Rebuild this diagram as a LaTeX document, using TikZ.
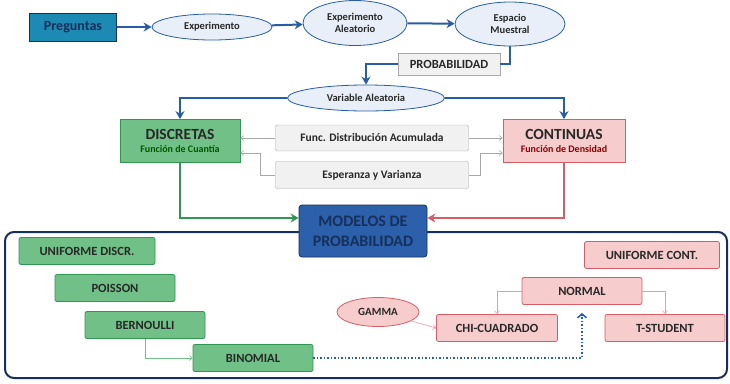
\documentclass[tikz,border=0pt]{standalone}
\usepackage{fontspec}
\setmainfont{Carlito}
\usepackage{tikz}
\usetikzlibrary{arrows.meta, positioning, shapes.geometric, calc}
\usepackage{xcolor}
\definecolor{flowblue}{RGB}{40,92,165}
\definecolor{ellfill}{RGB}{232,239,248}
\definecolor{tealfill}{RGB}{28,138,178}
\definecolor{navy}{RGB}{22,48,92}
\definecolor{greenfill}{RGB}{112,192,135}
\definecolor{greendraw}{RGB}{48,150,82}
\definecolor{pinkfill}{RGB}{246,204,205}
\definecolor{reddraw}{RGB}{214,92,102}
\definecolor{greyfill}{RGB}{241,241,241}
\definecolor{greydraw}{RGB}{168,168,168}
\definecolor{modfill}{RGB}{45,96,170}
\definecolor{txt}{RGB}{40,40,40}

\begin{document}
\begin{tikzpicture}[
    x=1pt, y=-1pt,
    every node/.style={inner sep=0pt, align=center, text=txt, font=\bfseries},
    ell/.style={ellipse, draw=flowblue, thick, fill=ellfill, font=\bfseries\fontsize{10.5}{12}\selectfont},
    grey/.style={rectangle, rounded corners=2pt, draw=greydraw, fill=greyfill,
                 minimum width=193pt, font=\bfseries\fontsize{11.5}{13}\selectfont},
    disc/.style={rectangle, rounded corners=2pt, draw=greendraw, thick, fill=greenfill,
                 minimum width=120pt, minimum height=27pt, font=\bfseries\fontsize{12.5}{14}\selectfont},
    cont/.style={rectangle, rounded corners=2pt, draw=reddraw, thick, fill=pinkfill,
                 minimum width=120pt, minimum height=27pt, font=\bfseries\fontsize{12.5}{14}\selectfont},
    arr/.style={-{Stealth[length=8pt, width=9pt]}, line width=2pt, draw=flowblue},
    thin arr/.style={-{Straight Barb[length=3pt, width=5pt]}, semithick},
]
    \useasboundingbox (0,0) rectangle (730,383);

    % frame of the models
    \draw[navy, line width=2pt, rounded corners=9pt] (5,232) rectangle (727,378);

    % upper part
    \node[rectangle, draw=navy, thick, fill=tealfill, minimum width=87pt, minimum height=28pt,
          text=navy, font=\bfseries\fontsize{14}{16}\selectfont] (preg) at (73,27) {Preguntas};
    \node[ell, minimum width=120pt, minimum height=26pt] (exp) at (212,27) {Experimento};
    \node[ell, minimum width=104pt, minimum height=45pt] (expal) at (355,23) {Experimento\\Aleatorio};
    \node[ell, minimum width=110pt, minimum height=44pt] (esp) at (510,24) {Espacio\\Muestral};
    \node[rectangle, draw=greydraw, thick, fill=greyfill, minimum width=102pt, minimum height=22pt,
          font=\bfseries\fontsize{12.5}{14}\selectfont] (prob) at (449,64) {PROBABILIDAD};
    \node[ell, minimum width=157pt, minimum height=26pt] (va) at (366,98) {Variable Aleatoria};

    \node[rectangle, draw=greendraw, thick, fill=greenfill, minimum width=120pt, minimum height=43pt]
        (dis) at (180,141) {\fontsize{15.5}{17}\selectfont DISCRETAS\\[1pt]
        {\fontsize{10}{11}\selectfont\color{green!35!black}Función de Cuantía}};
    \node[rectangle, draw=reddraw, thick, fill=pinkfill, minimum width=122pt, minimum height=43pt]
        (con) at (564,141) {\fontsize{15.5}{17}\selectfont CONTINUAS\\[1pt]
        {\fontsize{10}{11}\selectfont\color{red!55!black}Función de Densidad}};
    \node[grey, minimum height=26pt] (fda) at (372,138) {Func. Distribución Acumulada};
    \node[grey, minimum height=27pt] (esv) at (372,175) {Esperanza y Varianza};

    \node[rectangle, rounded corners=3pt, draw=navy, thick, fill=modfill, minimum width=128pt,
          minimum height=52pt, text=navy, font=\bfseries\fontsize{16}{20}\selectfont]
        (mod) at (363,231) {MODELOS DE\\PROBABILIDAD};

    \draw[arr] (preg) -- (exp);
    \draw[arr] (exp) -- (expal);
    \draw[arr] (expal) -- (esp);
    \draw[line width=2pt, flowblue] (esp.south) |- (prob.east);
    \draw[arr] (prob.west) -| (va.north);
    \draw[arr] (va.west) -| (dis.north);
    \draw[arr] (va.east) -| (con.north);

    \draw[thin arr, greydraw] (fda.west) -- (fda.west -| dis.east);
    \draw[thin arr, greydraw] (fda.east) -- (fda.east -| con.west);
    \draw[thin arr, greydraw] (esv.west) -- ++(-15,0) |- ([yshift=-12pt]dis.east);
    \draw[thin arr, greydraw] (esv.east) -- ++(12,0) |- ([yshift=-12pt]con.west);

    \draw[-{Stealth[length=8pt, width=9pt]}, line width=2pt, greendraw] (dis.south) |- ([yshift=13pt]mod.west);
    \draw[-{Stealth[length=8pt, width=9pt]}, line width=2pt, reddraw] (con.south) |- ([yshift=13pt]mod.east);

    % models
    \node[disc, minimum width=136pt] (unid) at (87,251) {UNIFORME DISCR.};
    \node[disc] (poi) at (115,288) {POISSON};
    \node[disc] (ber) at (145,325) {BERNOULLI};
    \node[disc] (bin) at (253,358) {BINOMIAL};

    \node[cont, minimum width=135pt] (unic) at (652,255) {UNIFORME CONT.};
    \node[cont] (nor) at (582,291) {NORMAL};
    \node[cont, minimum width=121pt] (chi) at (497,328) {CHI-CUADRADO};
    \node[cont] (tst) at (665,328) {T-STUDENT};
    \node[ellipse, draw=reddraw, thick, fill=pinkfill, minimum width=82pt, minimum height=29pt,
          font=\bfseries\fontsize{11}{12}\selectfont] (gam) at (378,312) {GAMMA};

    \draw[thin arr, greenfill] (ber.south) |- (bin.west);
    \draw[thin arr, reddraw!60] (nor.west) -| (chi.north);
    \draw[thin arr, reddraw!60] (nor.east) -| (tst.north);
    \draw[thin arr, reddraw!60] (gam.-15) -- (chi.west);
    \draw[flowblue, line width=1.5pt, dotted, -{Straight Barb[length=4pt, width=9pt]}]
        (bin.east) -| ([yshift=-8pt]nor.south);
\end{tikzpicture}
\end{document}
